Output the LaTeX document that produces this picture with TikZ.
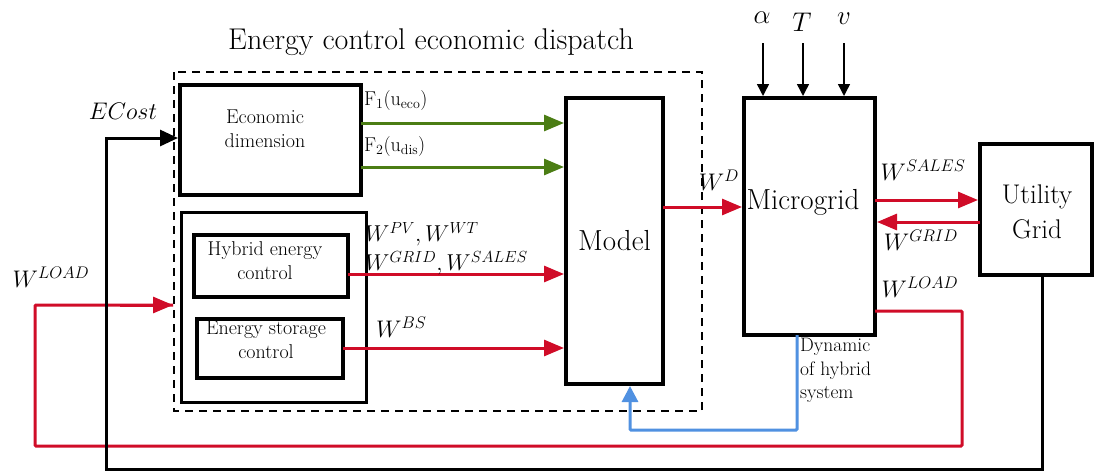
\documentclass[tikz,border=0pt]{standalone}
\usepackage{fix-cm}
\usepackage{fontspec}
\usetikzlibrary{arrows.meta}
\definecolor{myred}{RGB}{208,12,40}
\definecolor{mygreen}{RGB}{75,125,20}
\definecolor{myblue}{RGB}{80,145,225}
\begin{document}
\begin{tikzpicture}[x=1pt,y=-1pt,
  box/.style={draw,line width=4pt,inner sep=0pt},
  txt/.style={inner sep=0pt,align=center},
  big/.style={font=\fontsize{29}{34}\selectfont},
  mid/.style={font=\fontsize{20}{24}\selectfont},
  lab/.style={inner sep=0pt,font=\fontsize{24}{26}\selectfont},
  redarr/.style={draw=myred,line width=3pt,-{Triangle[length=20pt,width=16pt]}},
  greenarr/.style={draw=mygreen,line width=3pt,-{Triangle[length=20pt,width=16pt]}},
  blackarr/.style={draw=black,line width=1.5pt,-{Triangle[length=12pt,width=12pt]}}]
\useasboundingbox (0,0) rectangle (1098,474);

% title
\node[txt,font=\fontsize{30}{34}\selectfont] (title) at (431,42) {Energy control economic dispatch};
% dashed frame
\draw[line width=1.3pt,dash pattern=on 8pt off 6pt] (174,72) rectangle (702,411);

% boxes
\node[box,minimum width=181pt,minimum height=110pt] (econ) at (270.5,140) {};
\node[txt,mid] (econt) at (265,129) {Economic\\dimension};
\node[draw,line width=3pt,inner sep=0pt,minimum width=185pt,minimum height=190pt] (ctrl) at (273.5,307) {};
\node[box,minimum width=154pt,minimum height=62pt] (hyb) at (271,266) {};
\node[txt,mid] (hybt) at (265,261) {Hybrid energy\\control};
\node[box,minimum width=146pt,minimum height=59pt] (sto) at (270,348.5) {};
\node[txt,mid] (stot) at (266,340) {Energy storage\\control};
\node[box,minimum width=97pt,minimum height=286pt] (model) at (614.5,241) {};
\node[txt,big] (modelt) at (614.5,241) {Model};
\node[box,minimum width=131pt,minimum height=237pt] (micro) at (809.5,216.5) {};
\node[txt,big] (microt) at (803,202) {Microgrid};
\node[box,minimum width=112pt,minimum height=131pt] (util) at (1036,209.5) {};
\node[txt,font=\fontsize{27}{35}\selectfont] (utilt) at (1037,212) {Utility\\Grid};

% inputs alpha T v
\node[lab,font=\fontsize{27}{30}\selectfont] (la) at (762,18) {$\alpha$};
\node[lab,font=\fontsize{27}{30}\selectfont] (lT) at (802,22) {$T$};
\node[lab,font=\fontsize{27}{30}\selectfont] (lv) at (844,19) {$v$};
\coordinate (a0) at (763,43); \coordinate (T0) at (803,43); \coordinate (v0) at (844,43);
\draw[blackarr] (a0) -- (a0 |- micro.north);
\draw[blackarr] (T0) -- (T0 |- micro.north);
\draw[blackarr] (v0) -- (v0 |- micro.north);

% green arrows
\coordinate (g1) at (361,123); \coordinate (g2) at (361,167);
\draw[greenarr] (g1) -- (g1 -| model.west);
\draw[greenarr] (g2) -- (g2 -| model.west);
\node[lab,anchor=west,font=\fontsize{20}{22}\selectfont] (f1) at (364,101) {F\textsubscript{1}(u\textsubscript{eco})};
\node[lab,anchor=west,font=\fontsize{20}{22}\selectfont] (f2) at (364,147) {F\textsubscript{2}(u\textsubscript{dis})};

% red arrows to model
\coordinate (r1) at (348,274); \coordinate (r2) at (343,348);
\draw[redarr] (r1) -- (r1 -| model.west);
\draw[redarr] (r2) -- (r2 -| model.west);
\node[lab,anchor=west,font=\fontsize{23}{25}\selectfont] (wpv) at (365,234) {$W^{PV}, W^{WT}$};
\node[lab,anchor=west,font=\fontsize{23}{25}\selectfont] (wgs) at (365,263) {$W^{GRID}, W^{SALES}$};
\node[lab,anchor=west] (wbs) at (376,327) {$W^{BS}$};

% model to microgrid
\coordinate (d0) at (663,207);
\draw[redarr] (d0) -- (d0 -| micro.west);
\node[lab] (wd) at (719,180) {$W^{D}$};

% microgrid <-> utility
\coordinate (s0) at (875,200); \coordinate (g0) at (980,222);
\draw[redarr] (s0) -- (s0 -| util.west);
\draw[redarr] (g0) -- (g0 -| micro.east);
\node[lab] (wsales) at (923,170) {$W^{SALES}$};
\node[lab] (wgrid) at (921,240) {$W^{GRID}$};

% W LOAD loop
\coordinate (l0) at (875,311);
\coordinate (lin) at (35,305);
\coordinate (ltip) at (173,305);
\draw[draw=myred,line width=3pt,rounded corners=1pt] (l0) -- (962,311) -- (962,446) -- (35,446) -- (lin) -- (ltip);
\draw[redarr] (120,305) -- (ltip);
\node[lab] (wload1) at (920,287) {$W^{LOAD}$};
\node[lab] (wload2) at (51,277) {$W^{LOAD}$};

% blue feedback
\coordinate (b0) at (797,335);
\coordinate (b1) at (630,430);
\draw[draw=myblue,line width=3pt,rounded corners=1pt,-{Triangle[length=16pt,width=16pt]}] (b0) -- (797,430) -- (b1) -- (b1 |- model.south);
\node[txt,anchor=north west,align=left,font=\fontsize{19.5}{23.5}\selectfont] (dyn) at (800,338) {Dynamic\\of hybrid\\system};

% black ECost loop
\coordinate (k0) at (1042,275);
\draw[line width=3pt,-{Triangle[length=18pt,width=16pt]}] (k0) -- (1042,469) -- (106,469) -- (106,138) -- (178,138);
\node[lab] (ecost) at (123,111) {$ECost$};
\end{tikzpicture}
\end{document}
